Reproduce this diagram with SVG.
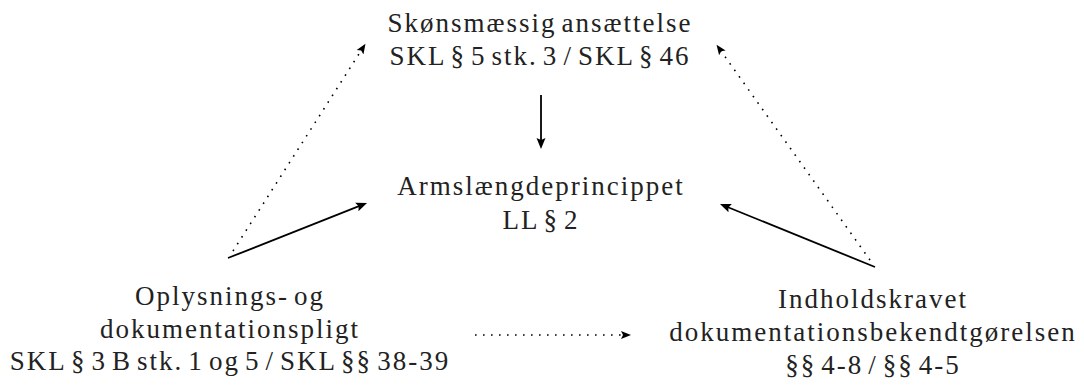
<svg xmlns="http://www.w3.org/2000/svg" width="1084" height="386" viewBox="0 0 1084 386">
<style>
  text { font-family: "Liberation Serif", "DejaVu Serif", serif; font-size: 27px; letter-spacing: 2px; word-spacing: -3.7px; fill: #222; text-anchor: middle; }
  .solid { stroke: #000; stroke-width: 1.8; fill: none; }
  .dot { stroke: #000; stroke-width: 1.6; fill: none; stroke-dasharray: 1.6 6.4; }
</style>
<defs>
  <marker id="head" markerUnits="userSpaceOnUse" markerWidth="12" markerHeight="12" viewBox="0 -6 12 12" refX="3" refY="0" orient="auto">
    <path d="M0,-4.5 L11,0 L0,4.5 L2,0 Z" fill="#000"/>
  </marker>
  <marker id="headS" markerUnits="userSpaceOnUse" markerWidth="12" markerHeight="12" viewBox="0 -6 12 12" refX="3" refY="0" orient="auto">
    <path d="M0,-4 L10,0 L0,4 L2,0 Z" fill="#000"/>
  </marker>
</defs>
<g id="connectors">
  <line class="solid" x1="541" y1="95" x2="541" y2="141" marker-end="url(#head)"/>
  <line class="solid" x1="228" y1="258" x2="359.6" y2="205.9" marker-end="url(#head)"/>
  <line class="solid" x1="875" y1="267" x2="727.4" y2="207.0" marker-end="url(#head)"/>
  <line class="dot" x1="233" y1="251" x2="361.7" y2="49.7" marker-end="url(#headS)"/>
  <line class="dot" x1="870" y1="260" x2="720.6" y2="50.5" marker-end="url(#headS)"/>
  <line class="dot" x1="475" y1="335" x2="624" y2="335" marker-end="url(#headS)"/>
</g>
<g id="node-skoen">
  <text x="540" y="32">Skønsmæssig ansættelse</text>
  <text x="540" y="65">SKL § 5 stk. 3 / SKL § 46</text>
</g>
<g id="node-arms">
  <text x="541" y="195">Armslængdeprincippet</text>
  <text x="541" y="229">LL § 2</text>
</g>
<g id="node-oplys">
  <text x="230" y="305">Oplysnings- og</text>
  <text x="230" y="338">dokumentationspligt</text>
  <text x="230" y="370">SKL § 3 B stk. 1 og 5 / SKL §§ 38-39</text>
</g>
<g id="node-indhold">
  <text x="873" y="308">Indholdskravet</text>
  <text x="873" y="341">dokumentationsbekendtgørelsen</text>
  <text x="873" y="374">§§ 4-8 / §§ 4-5</text>
</g>
</svg>
